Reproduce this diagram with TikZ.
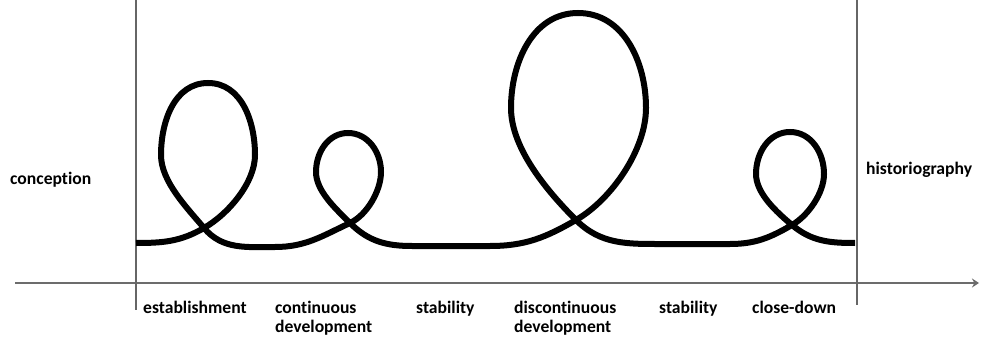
\documentclass[tikz,border=0pt]{standalone}
\usepackage{fontspec}
\setmainfont{Carlito}[Ligatures=NoCommon]
\usetikzlibrary{arrows.meta, positioning}
\tikzset{
    axisline/.style={draw=gray!85!black, line width=2.5pt},
    border/.style={draw=gray!80!black, line width=1.8pt},
    lifeline/.style={draw=black, line width=6pt},
    phase/.style={anchor=north west, inner sep=0pt, align=left, font=\fontsize{17.6}{19}\selectfont\bfseries},
    endlabel/.style={anchor=west, inner sep=0pt, font=\fontsize{17.6}{19}\selectfont\bfseries}
}

\begin{document}
\begin{tikzpicture}[x=1pt, y=1pt]
    \useasboundingbox (0,0) rectangle (981,340);

    \coordinate (axisstart) at (15,57);
    \coordinate (axisend) at (979,57);
    \coordinate (lefttop) at (136,340);
    \coordinate (leftbot) at (136,30);
    \coordinate (righttop) at (857,340);
    \coordinate (rightbot) at (857,35);

    \draw [axisline, -{Stealth[length=7pt, width=9pt]}] (axisstart) -- (axisend);
    \draw [border] (lefttop) -- (leftbot);
    \draw [border] (righttop) -- (rightbot);

    % the loops
    \draw [lifeline] (136,97)
        to[out=0, in=210] (204,112) to[out=30, in=-90, looseness=0.8] (255,185) to[out=90, in=0] (208,257)
        to[out=180, in=90] (161,185) to[out=-90, in=130, looseness=0.8] (204,112) to[out=-50, in=180] (275,93)
        to[out=0, in=205] (350,117) to[out=25, in=-90, looseness=0.8] (381,168) to[out=90, in=0] (348,207)
        to[out=180, in=90] (316,168) to[out=-90, in=135, looseness=0.8] (350,117) to[out=-45, in=180] (412,94)
        -- (490,94)
        to[out=0, in=210] (576,120) to[out=30, in=-90, looseness=0.8] (646,232) to[out=90, in=0] (578,327)
        to[out=180, in=90] (511,232) to[out=-90, in=135, looseness=0.8] (576,120) to[out=-45, in=180] (662,96)
        -- (730,96)
        to[out=0, in=210] (792,115) to[out=30, in=-90, looseness=0.8] (824,166) to[out=90, in=0] (790,208)
        to[out=180, in=90] (756,166) to[out=-90, in=140, looseness=0.8] (792,115) to[out=-40, in=180] (855,97);

    \node (conception) [endlabel] at (10,160) {conception};
    \node (historiography) [endlabel] at (866,170) {historiography};

    \node (establishment) [phase] at (143,39) {establishment};
    \node (continuous) [phase] at (275,39) {continuous\\development};
    \node (stability1) [phase] at (416,39) {stability};
    \node (discontinuous) [phase] at (514,39) {discontinuous\\development};
    \node (stability2) [phase] at (659,39) {stability};
    \node (closedown) [phase] at (752,39) {close-down};
\end{tikzpicture}
\end{document}
